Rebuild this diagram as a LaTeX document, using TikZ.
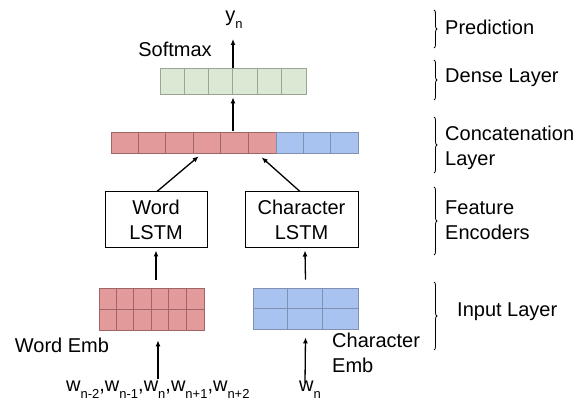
\documentclass[tikz,border=0pt]{standalone}
\usepackage{fontspec}
\setmainfont{Liberation Sans}
\usetikzlibrary{arrows.meta,calc,decorations.pathreplacing}
\definecolor{redfill}{HTML}{E29A9A}
\definecolor{redline}{HTML}{A06666}
\definecolor{bluefill}{HTML}{A8C3F0}
\definecolor{blueline}{HTML}{8090B0}
\definecolor{greenfill}{HTML}{DAE8D4}
\definecolor{greenline}{HTML}{98A693}
\newcommand\sbs[1]{\raisebox{-7pt}{\fontsize{13}{13}\selectfont #1}}
\tikzset{
  lbl/.style={font=\fontsize{20}{25}\selectfont, inner sep=0pt},
  grid/.style={inner sep=0pt, line width=0.7pt},
  lstm/.style={draw, line width=1pt, inner sep=0pt, align=center, font=\fontsize{20}{25}\selectfont},
  arr/.style={line width=1.3pt, -{Latex[length=6pt,width=5pt]}},
  brc/.style={decorate, decoration={brace, amplitude=3pt}, line width=0.8pt},
}
\begin{document}
\begin{tikzpicture}[x=1pt,y=-1pt]
\useasboundingbox (0,0) rectangle (579,403);
% dense layer
\node[grid, fill=greenfill, draw=greenline, minimum width=146pt, minimum height=26pt] (dense) at (233,81) {};
\foreach \i in {1,...,5} \draw[greenline, line width=0.7pt] ($(dense.north west)+(\i*146/6,0)$) -- ($(dense.south west)+(\i*146/6,0)$);
% concat layer
\node[grid, fill=redfill, draw=redline, minimum width=165pt, minimum height=21pt] (concr) at (193.5,142.5) {};
\node[grid, fill=bluefill, draw=blueline, minimum width=82pt, minimum height=21pt] (concb) at (317,142.5) {};
\foreach \i in {1,...,5} \draw[redline, line width=0.7pt] ($(concr.north west)+(\i*27.5,0)$) -- ($(concr.south west)+(\i*27.5,0)$);
\foreach \i in {1,2} \draw[blueline, line width=0.7pt] ($(concb.north west)+(\i*82/3,0)$) -- ($(concb.south west)+(\i*82/3,0)$);
% LSTMs
\node[lstm, minimum width=102pt, minimum height=56pt] (wlstm) at (156,220) {Word\\LSTM};
\node[lstm, minimum width=113pt, minimum height=56pt] (clstm) at (301.5,220) {Character\\LSTM};
% embeddings
\node[grid, fill=redfill, draw=redline, minimum width=105pt, minimum height=42pt] (wemb) at (151.5,309) {};
\foreach \i in {1,...,5} \draw[redline, line width=0.7pt] ($(wemb.north west)+(\i*17.5,0)$) -- ($(wemb.south west)+(\i*17.5,0)$);
\draw[redline, line width=0.7pt] (wemb.west) -- (wemb.east);
\node[grid, fill=bluefill, draw=blueline, minimum width=105pt, minimum height=41pt] (cemb) at (305.5,308.5) {};
\foreach \i in {1,2} \draw[blueline, line width=0.7pt] ($(cemb.north west)+(\i*35,0)$) -- ($(cemb.south west)+(\i*35,0)$);
\draw[blueline, line width=0.7pt] (cemb.west) -- (cemb.east);
% texts
\node[lbl] (yn) at (234,20) {y\sbs{n}};
\node[lbl] (softmax) at (175,49) {Softmax};
\node[lbl] (wembl) at (62,345) {Word Emb};
\node[lbl, anchor=west, align=left] (cembl) at (332,353) {Character\\Emb};
\node[lbl, anchor=base west] (words) at (66,392) {w\sbs{n-2},w\sbs{n-1},w\sbs{n},w\sbs{n+1},w\sbs{n+2}};
\node[lbl, anchor=base west] (wn) at (299,392) {w\sbs{n}};
% arrows
\coordinate (dtop) at (233,68);
\draw[arr] (dense.north) -- (233,39) coordinate (ybot);
\coordinate (ctop) at (233,131);
\draw[arr] (ctop) -- ($(dense.south)+(0,3)$);
\draw[arr] ($(wlstm.north)+(1,0)$) -- ($(concr.south west)+(88,3)$);
\draw[arr] ($(clstm.north)+(-1.5,0)$) -- ($(concr.south west)+(151,4)$);
\draw[arr] ($(wemb.north)+(4.5,-8)$) -- ($(wlstm.south)+(0,2)$);
\draw[arr] ($(cemb.north)+(0,-8)$) -- ($(clstm.south)+(3.5,2)$);
\draw[arr] ($(words.north west)+(92,-2)$) -- ($(wemb.south)+(6.5,10)$);
\draw[arr] ($(wn.north west)+(6,2)$) -- ($(cemb.south)+(0,8)$);
% braces
\draw[brc] (434,10) -- (434,48);
\draw[brc] (434,60) -- (434,100);
\draw[brc] (434,117) -- (434,173);
\draw[brc] (434,187) -- (434,255);
\draw[brc] (434,282) -- (434,350);
\node[lbl, anchor=west] (pred) at (445,27) {Prediction};
\node[lbl, anchor=west] (densel) at (445,78) {Dense Layer};
\node[lbl, anchor=west, align=left] (concl) at (445,148) {Concatenation\\Layer};
\node[lbl, anchor=west, align=left] (featl) at (445,220) {Feature\\Encoders};
\node[lbl, anchor=west] (inpl) at (457,312) {Input Layer};
\end{tikzpicture}
\end{document}
